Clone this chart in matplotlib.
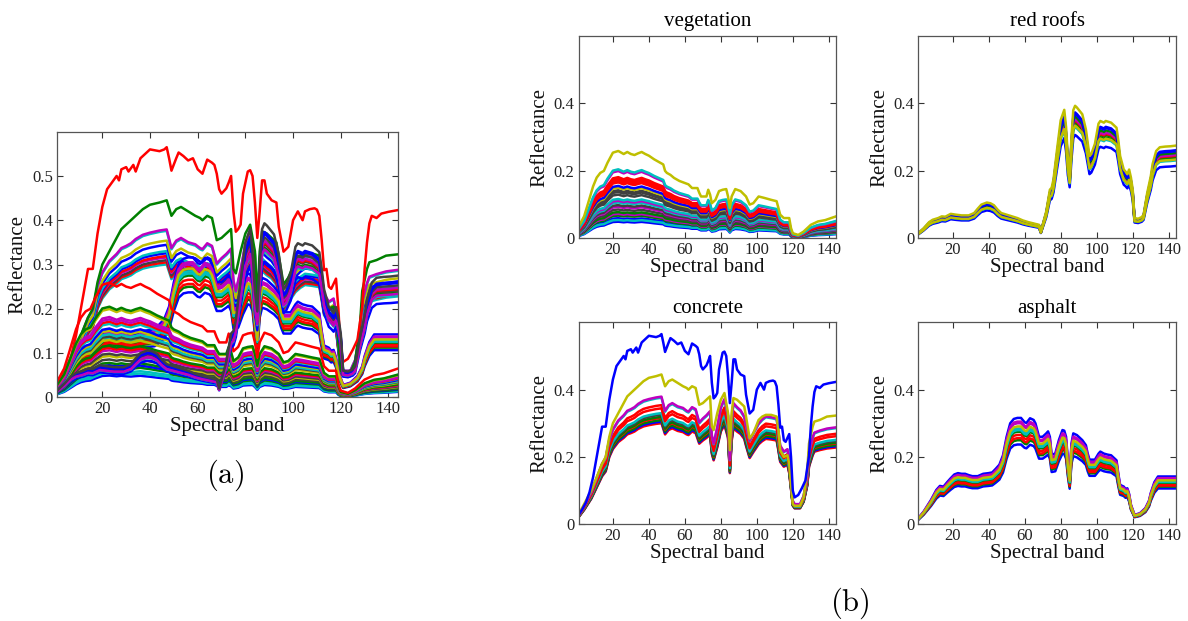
import numpy as np
import matplotlib
matplotlib.use("Agg")
import matplotlib.pyplot as plt

plt.rcParams['font.family'] = ['Liberation Serif', 'DejaVu Serif']
plt.rcParams['mathtext.fontset'] = 'cm'

# ---------------- data ----------------
# concrete, brightest spectrum
concrete_top_bands = [1,3,5,7,9,11,13,14,16,18,20,22,24,26,27,28,30,31,33,34,36,38,40,44,46,47,48,49,51,52,
                      54,56,58,60,62,64,66,67,68,69,70,72,73,74,75,76,77,78,79,81,82,83,84,85,86,87,88,89,91,93,
                      94,96,98,100,102,104,105,107,109,110,111,112,113,114,115,116,118,119,120,121,
                      123,125,127,129,130,131,132,133,135,137,140,144]
concrete_top_vals = [.028,.045,.065,.095,.14,.20,.26,.29,.29,.37,.43,.47,.485,.50,.49,.515,.52,.51,.525,.51,
                     .54,.55,.56,.556,.56,.565,.54,.512,.54,.553,.545,.535,.54,.515,.505,.537,.53,.525,.505,.47,
                     .46,.472,.485,.50,.42,.374,.38,.39,.46,.51,.513,.50,.44,.36,.42,.49,.49,.46,.445,.44,
                     .385,.329,.34,.40,.42,.40,.42,.425,.427,.424,.41,.355,.287,.29,.25,.245,.268,.20,.10,.08,
                     .087,.107,.13,.204,.29,.35,.393,.41,.405,.415,.419,.423]
# concrete, typical spectrum of the main bundle
concrete_bands = [1,4,8,11,14,16,18,20,23,26,28,30,32,34,37,40,44,47,49,51,53,56,59,61,62,64,66,68,70,72,
                  74,75,76,78,80,82,84,85,86,87,89,91,93,94,96,98,101,103,105,108,111,112,113,115,117,118,119,120,121,124,
                  126,128,129,131,132,135,139,144]
concrete_vals = [.023,.045,.08,.115,.15,.165,.21,.235,.257,.27,.281,.285,.29,.298,.306,.31,.314,.316,.281,.295,
                 .30,.292,.288,.281,.279,.29,.285,.252,.262,.27,.28,.22,.20,.24,.29,.31,.27,.16,.26,.30,
                 .29,.282,.267,.245,.207,.225,.25,.26,.267,.265,.262,.23,.195,.18,.186,.16,.11,.058,.05,.05,
                 .07,.12,.18,.215,.227,.232,.237,.24]
concrete_scales = [0.95, 0.965, 0.98, 1.0, 1.01, 1.03, 1.045, 1.09, 1.12, 1.19, 1.2]
# concrete, second brightest spectrum
concrete_mid_vals = [.03,.06,.10,.14,.18,.20,.26,.30,.33,.36,.38,.39,.40,.41,.425,.435,.44,.445,.41,.425,
                     .43,.42,.41,.405,.40,.41,.405,.355,.36,.37,.38,.29,.28,.33,.37,.39,.33,.22,.33,.375,
                     .37,.36,.35,.32,.255,.27,.31,.32,.325,.325,.32,.28,.22,.20,.205,.18,.12,.06,.055,.055,
                     .08,.16,.24,.29,.305,.31,.32,.323]

# vegetation, brightest spectrum
veg_bands = [1,4,6,9,11,13,15,17,20,23,26,28,30,32,34,36,38,40,43,46,48,49,50,52,54,57,60,62,64,67,
             68,69,72,73,74,75,77,79,81,83,84,85,86,88,91,94,96,98,101,104,108,111,112,113,115,118,119,120,123,126,
             130,134,138,144]
veg_vals = [.035,.065,.10,.154,.18,.194,.20,.224,.254,.259,.25,.256,.25,.247,.252,.256,.25,.245,.234,.225,
            .219,.20,.194,.188,.179,.17,.164,.16,.149,.149,.135,.124,.124,.144,.13,.104,.114,.14,.144,.146,
            .124,.09,.124,.146,.14,.124,.10,.104,.124,.12,.114,.11,.09,.07,.06,.06,.03,.015,.01,.02,
            .04,.05,.054,.065]
veg_scales = [0.19, 0.23, 0.21, 0.26, 0.28, 0.30, 0.33, 0.36, 0.38, 0.41, 0.43, 0.45,
              0.50, 0.53, 0.55, 0.58, 0.60, 0.64, 0.66, 0.68, 0.70, 0.77, 0.79, 1.0]

# red roofs, brightest spectrum
roof_bands = [1,4,7,9,12,14,16,19,22,25,29,32,34,36,39,41,43,45,47,50,53,56,59,62,65,68,69,70,72,74,
              75,76,78,80,82,83,84,85,86,87,88,89,92,94,96,97,99,101,102,104,105,108,111,112,113,115,116,117,118,119,
              120,121,123,125,126,128,130,131,133,135,138,141,144]
roof_vals = [.015,.03,.048,.055,.06,.065,.064,.0725,.07,.068,.068,.075,.088,.10,.106,.104,.098,.085,.075,.07,
             .065,.06,.053,.048,.044,.04,.02,.04,.08,.144,.15,.174,.264,.35,.381,.33,.24,.194,.30,.38,
             .393,.388,.368,.323,.244,.25,.28,.34,.348,.343,.348,.343,.328,.29,.244,.204,.198,.19,.204,.18,
             .144,.06,.058,.063,.07,.134,.184,.22,.259,.27,.272,.273,.275]
roof_scales = [0.78, 0.84, 0.86, 0.88, 0.89, 0.90, 0.92, 0.94, 0.95, 0.85, 1.0]

# asphalt, brightest spectrum
asph_bands = [1,4,8,11,13,15,17,19,21,23,25,27,29,31,34,37,40,42,44,46,48,50,52,54,56,58,60,61,63,65,
              66,68,70,72,73,74,75,77,79,81,82,83,84,85,86,87,89,92,94,95,96,99,101,102,104,106,108,110,111,112,
              113,115,116,117,118,119,121,124,127,129,130,132,134,139,144]
asph_vals = [.018,.038,.072,.102,.114,.112,.125,.137,.148,.152,.15,.15,.146,.143,.143,.15,.152,.154,.165,.177,
             .205,.26,.30,.313,.316,.316,.303,.301,.315,.31,.30,.26,.26,.27,.276,.26,.207,.21,.25,.28,
             .278,.26,.19,.141,.24,.27,.265,.25,.235,.21,.192,.192,.21,.216,.21,.207,.205,.195,.19,.15,
             .117,.112,.105,.107,.09,.058,.028,.033,.048,.07,.093,.125,.142,.142,.142]
asph_scales = [1.0, 0.75, 0.79, 0.81, 0.84, 0.87, 0.885, 0.90, 0.965, 0.95, 0.92]

# ---------------- styles ----------------
C = {'b': (0, 0, 1), 'g': (0, 0.5, 0), 'r': (1, 0, 0), 'c': (0, 0.75, 0.75),
     'm': (0.75, 0, 0.75), 'y': (0.75, 0.75, 0), 'k': (0.25, 0.25, 0.25)}

veg_col_b = ['b','b','c','g','m','g','k','m','k','c','m','c','k','k','k','y','b','r','r','r','r','m','c','y']
con_col_b = ['r','b','g','r','g','k','c','r','r','c','m']
roof_col_b = ['b','c','g','g','r','m','g','b','b','y','y']
asph_col_b = ['b','b','g','r','r','g','c','c','m','m','y']

veg_col_a = ['b','c','c','g','b','g','k','y','k','m','r','g','y','k','c','y','b','c','r','m','m','y','g','r']
con_col_a = ['c','r','k','m','r','b','c','b','y','c','m']
roof_col_a = ['b','c','g','k','r','m','k','b','b','m','k']
asph_col_a = ['b','b','g','r','r','g','c','c','m','m','y']

W, H = 1188, 621
fig = plt.figure(figsize=(W / 100, H / 100), dpi=100)

def frac(l, r, t, b):
    return [l / W, 1 - b / H, (r - l) / W, (b - t) / H]

LW = 1.8

def style(ax, yticks, ylabels):
    ax.set_xlim(1, 144)
    ax.set_ylim(0, 0.6)
    ax.set_xticks([20, 40, 60, 80, 100, 120, 140])
    ax.set_yticks(yticks)
    ax.set_yticklabels(ylabels)
    ax.tick_params(direction='in', top=True, right=True, length=4, width=0.8,
                   labelsize=12, colors='#333333', labelcolor='#222222', pad=3)
    for s in ax.spines.values():
        s.set_color('#555555')
        s.set_linewidth(0.9)
    ax.set_xlabel('Spectral band', fontsize=15, labelpad=0, color='#111111')
    ax.set_ylabel('Reflectance', fontsize=15, labelpad=3, color='#111111')

def draw_class(ax, bands, vals, scales, cols):
    v = np.array(vals)
    for s, c in zip(scales, cols):
        ax.plot(bands, v * s, color=C[c], lw=LW)

# ---- panel (a)
axa = fig.add_axes(frac(57, 398, 131.7, 397.3))
draw_class(axa, concrete_bands, concrete_vals, concrete_scales, con_col_a)
axa.plot(concrete_bands, concrete_mid_vals, color=C['g'], lw=LW)
axa.plot(concrete_top_bands, concrete_top_vals, color=C['r'], lw=LW)
draw_class(axa, asph_bands, asph_vals, asph_scales, asph_col_a)
draw_class(axa, veg_bands, veg_vals, veg_scales, veg_col_a)
draw_class(axa, roof_bands, roof_vals, roof_scales, roof_col_a)
style(axa, [0, 0.1, 0.2, 0.3, 0.4, 0.5], ['0', '0.1', '0.2', '0.3', '0.4', '0.5'])

# ---- panel (b)
yt, yl = [0, 0.2, 0.4], ['0', '0.2', '0.4']
axv = fig.add_axes(frac(578.7, 836, 36, 238.3))
draw_class(axv, veg_bands, veg_vals, veg_scales, veg_col_b)
style(axv, yt, yl)
axv.set_title('vegetation', fontsize=15, pad=7)

axr = fig.add_axes(frac(918.3, 1176, 36, 238.3))
draw_class(axr, roof_bands, roof_vals, roof_scales, roof_col_b)
style(axr, yt, yl)
axr.set_title('red roofs', fontsize=15, pad=7)

axc = fig.add_axes(frac(578.7, 836, 322.3, 524.3))
draw_class(axc, concrete_bands, concrete_vals, concrete_scales, con_col_b)
axc.plot(concrete_bands, concrete_mid_vals, color=C['y'], lw=LW)
axc.plot(concrete_top_bands, concrete_top_vals, color=C['b'], lw=LW)
style(axc, yt, yl)
axc.set_title('concrete', fontsize=15, pad=7)

axs = fig.add_axes(frac(918.3, 1176, 322.3, 524.3))
draw_class(axs, asph_bands, asph_vals, asph_scales, asph_col_b)
style(axs, yt, yl)
axs.set_title('asphalt', fontsize=15, pad=7)

fig.text(225 / W, 1 - 475 / H, r'$\mathrm{(a)}$', fontsize=22, ha='center', va='center')
fig.text(850 / W, 1 - 603 / H, r'$\mathrm{(b)}$', fontsize=22, ha='center', va='center')

fig.savefig('out.png', dpi=100)
